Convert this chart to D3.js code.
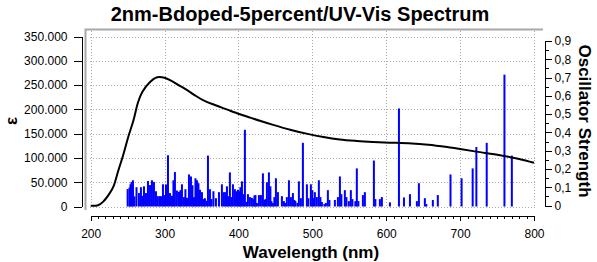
<!DOCTYPE html>
<html>
<head>
<meta charset="utf-8">
<script src="https://cdn.jsdelivr.net/npm/d3@7"></script>
<style>
  body { margin: 0; background: #fff; }
  svg { display: block; font-family: "Liberation Sans", Arial, sans-serif; }
  .grid line { stroke: #aaa; stroke-width: 1; stroke-dasharray: 1,2; }
  .axis path, .axis line { stroke: #000; stroke-width: 1; shape-rendering: crispEdges; }
  .axis text { font-size: 12px; fill: #000; }
</style>
</head>
<body>
<div id="chart"></div>
<script>
// absorption curve (wavelength nm, epsilon)
var curveWl = [200, 210, 217, 226, 231, 237, 244, 251, 258, 264, 270, 280, 290, 300, 310, 320, 330, 340, 352, 368, 384, 402, 416, 430, 447, 470, 492, 515, 537, 560, 582, 605, 630, 657, 684, 700, 722, 754, 780, 800];
var curveEps = [1500, 2500, 10000, 28000, 42000, 72000, 106000, 144000, 178000, 214000, 236000, 256000, 266000, 265000, 258000, 249000, 240000, 230000, 219000, 209000, 200000, 190000, 183000, 176000, 168000, 158000, 150000, 143000, 138000, 135000, 133000, 131500, 130000, 127000, 122000, 118500, 113000, 105500, 98000, 90000];

// transitions (wavelength nm, oscillator strength)
var barWl = [250, 252.5, 253.8, 255.2, 257.2, 259.3, 262, 265.3, 268, 270, 272.1, 274.8, 277.5, 280.2, 282.9, 285.6, 288.3, 290.6, 292.8, 295.1, 297.8, 299.8, 301.9, 304.6, 307.3, 310, 312, 314, 316.7, 319.5, 321.5, 323.5, 326.2, 328.2, 330.3, 333,
  335.7, 337.7, 339.8, 341.8, 343.8, 345.8, 347.9, 350.6, 352.6, 354.6, 356.7, 358.7, 361.4, 363.4, 366.1, 369.5, 373.6, 377.6, 380.3, 382.4, 384.4, 386.4, 388.4, 390.5, 392.5, 395.2, 397.2, 399.3, 401.3, 402.6, 404.7, 406.7, 408.7, 410.8, 412.8, 415.5, 418.2, 420.2, 421.6,
  423, 425, 427.7, 430.4, 433.1, 435.1, 436.5, 438.5, 441.2, 443.2, 444.6, 446.6, 448.6, 450.7, 453.4, 458.8, 461.5, 463.5, 465.5, 468.3, 471, 473.7, 475.7, 477.1, 479.8, 481.8, 484.5, 487.2, 492.6, 494.6, 498, 500, 501.4, 503.4, 506.1, 508.8,
  510.9, 512.9, 516.3, 518.3, 521, 523.1, 530.5, 534.6, 537.3, 539.3, 544, 546.1, 549.4, 552.1, 554.2, 558.2, 560.2, 562.3, 568.4, 571.1, 583.3, 585.3, 591.4, 594.1,
  605, 617.2, 624, 632.1, 641.5, 644.2, 652.3, 654.3, 663.1, 669.8, 687, 702, 717, 722, 736, 760, 770];
var barF = [0.09, 0.098, 0.116, 0.129, 0.138, 0.05, 0.1, 0.068, 0.1, 0.053, 0.105, 0.068, 0.134, 0.112, 0.138, 0.129, 0.078, 0.051, 0.051, 0.051, 0.116, 0.057, 0.115, 0.275, 0.068, 0.053, 0.138, 0.183, 0.082, 0.075, 0.084, 0.116, 0.046, 0.089, 0.042, 0.17,
  0.159, 0.111, 0.046, 0.149, 0.138, 0.122, 0.086, 0.073, 0.035, 0.04, 0.026, 0.273, 0.089, 0.035, 0.078, 0.04, 0.073, 0.116, 0.073, 0.073, 0.105, 0.051, 0.181, 0.046, 0.116, 0.089, 0.078, 0.086, 0.078, 0.1, 0.132, 0.062, 0.414, 0.02, 0.062, 0.046, 0.042, 0.035, 0.055,
  0.057, 0.014, 0.057, 0.057, 0.176, 0.03, 0.035, 0.127, 0.181, 0.105, 0.024, 0.014, 0.046, 0.149, 0.073, 0.051, 0.024, 0.014, 0.046, 0.138, 0.046, 0.068, 0.03, 0.024, 0.014, 0.132, 0.04, 0.343, 0.116, 0.04, 0.116, 0.084, 0.04, 0.073, 0.046, 0.138,
  0.046, 0.019, 0.008, 0.014, 0.084, 0.03, 0.03, 0.046, 0.159, 0.062, 0.084, 0.046, 0.024, 0.084, 0.035, 0.024, 0.203, 0.024, 0.057, 0.073, 0.246, 0.035, 0.035, 0.046,
  0.017, 0.531, 0.044, 0.062, 0.024, 0.122, 0.04, 0.008, 0.03, 0.057, 0.17, 0.149, 0.203, 0.32, 0.343, 0.716, 0.273];

var xTicks = [200, 300, 400, 500, 600, 700, 800];
var epsTicks = [0, 50000, 100000, 150000, 200000, 250000, 300000, 350000];
var fTicks = [0, 0.1, 0.2, 0.3, 0.4, 0.5, 0.6, 0.7, 0.8, 0.9];

var width = 597, height = 262;
var de = d3.formatLocale({ decimal: ",", thousands: ".", grouping: [3], currency: ["", "€"] });

var x = d3.scaleLinear().domain([200, 800]).range([90.7, 534]);
var yEps = d3.scaleLinear().domain([0, 350000]).range([206.5, 36.5]);
var yF = d3.scaleLinear().domain([0, 0.9]).range([205.5, 41]);

var svg = d3.select("#chart").append("svg")
  .attr("width", width)
  .attr("height", height);

// grid
var grid = svg.append("g").attr("class", "grid");
grid.selectAll(".gx").data(xTicks).enter().append("line")
  .attr("x1", d => Math.round(x(d)) + 0.5)
  .attr("x2", d => Math.round(x(d)) + 0.5)
  .attr("y1", 31).attr("y2", 208);
grid.selectAll(".gy").data(epsTicks).enter().append("line")
  .attr("x1", 90).attr("x2", 537)
  .attr("y1", d => Math.round(yEps(d)) + 0.5)
  .attr("y2", d => Math.round(yEps(d)) + 0.5);

// plot frame (left + top)
svg.append("path")
  .attr("d", "M85.5,210V29.5H543")
  .attr("fill", "none")
  .attr("stroke", "#a8a8a8")
  .attr("stroke-width", 2);

// bars
svg.append("g").selectAll("rect")
  .data(barWl.map((w, i) => ({ w: w, f: barF[i] })))
  .enter().append("rect")
  .attr("x", d => x(d.w) - 1)
  .attr("width", 2)
  .attr("y", d => yF(d.f))
  .attr("height", d => yF(0) - yF(d.f) + 1)
  .attr("fill", "#0000ff");

// curve
var line = d3.line()
  .x((d, i) => x(curveWl[i]))
  .y(d => yEps(d))
  .curve(d3.curveCatmullRom.alpha(0.5));
svg.append("path")
  .datum(curveEps)
  .attr("d", line)
  .attr("fill", "none")
  .attr("stroke", "#000")
  .attr("stroke-width", 2);

// left axis
svg.append("g")
  .attr("class", "axis")
  .attr("transform", "translate(81.5,0)")
  .call(d3.axisLeft(yEps).tickValues(epsTicks).tickSize(8).tickSizeOuter(0).tickPadding(6)
    .tickFormat(de.format(",d")));

// bottom axis
svg.append("g")
  .attr("class", "axis")
  .attr("transform", "translate(0,215.5)")
  .call(d3.axisBottom(x).tickValues(d3.range(200, 801, 10)).tickSize(3).tickSizeOuter(0).tickFormat(""));
svg.append("g")
  .attr("class", "axis")
  .attr("transform", "translate(0,215.5)")
  .call(d3.axisBottom(x).tickValues(xTicks).tickSize(5).tickSizeOuter(0).tickPadding(9));

// right axis
svg.append("g")
  .attr("class", "axis")
  .attr("transform", "translate(544.5,0)")
  .call(d3.axisRight(yF).tickValues(d3.range(0, 0.91, 0.05)).tickSize(4).tickSizeOuter(0).tickFormat(""));
svg.append("g")
  .attr("class", "axis")
  .attr("transform", "translate(544.5,0)")
  .call(d3.axisRight(yF).tickValues(fTicks).tickSize(7).tickSizeOuter(0).tickPadding(3)
    .tickFormat(d => d === 0 ? "0" : de.format(".1f")(d)));

// titles
svg.append("text")
  .attr("x", 300).attr("y", 21)
  .attr("text-anchor", "middle")
  .style("font-size", "20px").style("font-weight", "bold")
  .text("2nm-Bdoped-5percent/UV-Vis Spectrum");

svg.append("text")
  .attr("x", 311).attr("y", 258)
  .attr("text-anchor", "middle")
  .style("font-size", "17px").style("font-weight", "bold")
  .text("Wavelength (nm)");

svg.append("text")
  .attr("transform", "translate(17,121) rotate(-90)")
  .attr("text-anchor", "middle")
  .style("font-size", "17px").style("font-weight", "bold")
  .text("ε");

svg.append("text")
  .attr("transform", "translate(579,121) rotate(90)")
  .attr("text-anchor", "middle")
  .style("font-size", "17px").style("font-weight", "bold")
  .text("Oscillator Strength");
</script>
</body>
</html>
